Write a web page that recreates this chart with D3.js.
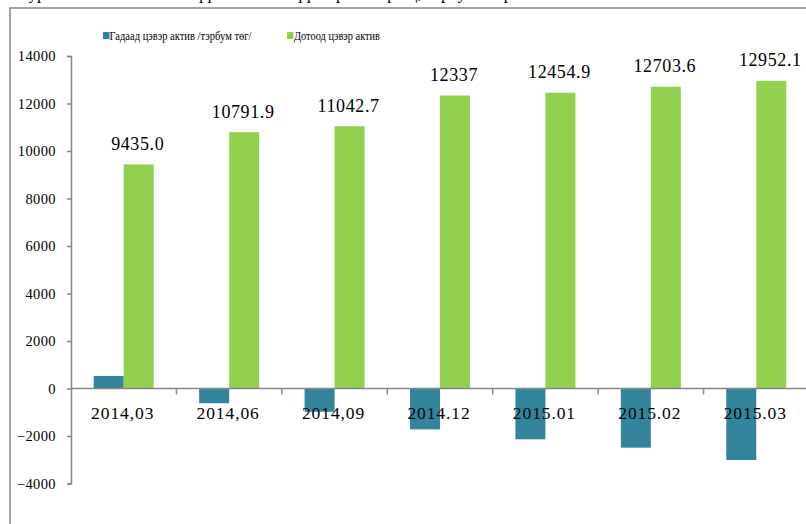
<!DOCTYPE html>
<html><head><meta charset="utf-8">
<script src="https://cdn.jsdelivr.net/npm/d3@7"></script>
<style>
html,body{margin:0;padding:0;background:#fff;}
svg text{font-family:"Liberation Serif","Times New Roman",Times,serif !important;}
</style></head>
<body>
<svg id="c" width="806" height="524"></svg>
<script>
const categories = ["2014,03","2014,06","2014,09","2014.12","2015.01","2015.02","2015.03"];
const foreignNet = [530, -620, -980, -1720, -2140, -2490, -3010];
const domesticNet = [9435.0, 10791.9, 11042.7, 12337, 12454.9, 12703.6, 12952.1];
const domesticLabels = ["9435.0","10791.9","11042.7","12337","12454.9","12703.6","12952.1"];
const seriesNames = ["Гадаад цэвэр актив /тэрбум төг/", "Дотоод цэвэр актив"];
const yTicks = [-4000,-2000,0,2000,4000,6000,8000,10000,12000,14000];
const caption = "Зураг 1. Мөнгөний нийлүүлэлтийн эх үүсвэрийн бүтэц, тэрбум төгрөг";

const svg = d3.select("#c");
const colors = ["#31849b", "#92d050"];
const axisColor = "#868686";

// caption cut by the top of the picture
svg.append("text").attr("x", 20).attr("y", -1.5).attr("font-size", 17)
  .attr("fill", "#000").text(caption);

// outer frame
svg.append("rect").attr("x", 10).attr("y", 8).attr("width", 820).attr("height", 540)
  .attr("fill", "none").attr("stroke", axisColor).attr("stroke-width", 1.5);

const y = d3.scaleLinear().domain([-4000, 14000]).range([483.5, 56]);
const x = d3.scaleBand().domain(categories).range([71, 809]).paddingInner(0).paddingOuter(0);
const barW = 30;

// bars
const g = svg.append("g");
g.selectAll("rect.f").data(foreignNet).join("rect")
  .attr("x", (d,i) => x(categories[i]) + x.bandwidth()/2 - barW)
  .attr("width", barW)
  .attr("y", d => y(Math.max(0, d)))
  .attr("height", d => Math.abs(y(d) - y(0)))
  .attr("fill", colors[0]);
g.selectAll("rect.d").data(domesticNet).join("rect")
  .attr("x", (d,i) => x(categories[i]) + x.bandwidth()/2)
  .attr("width", barW)
  .attr("y", d => y(Math.max(0, d)))
  .attr("height", d => Math.abs(y(d) - y(0)))
  .attr("fill", colors[1]);

// y axis
const yAxis = svg.append("g").attr("transform", "translate(71,0)")
  .call(d3.axisLeft(y).tickValues(yTicks).tickSize(4).tickPadding(11).tickFormat(d3.format("d")));
yAxis.attr("font-family", null);
yAxis.select(".domain").attr("stroke", axisColor).attr("stroke-width", 1.5);
yAxis.selectAll(".tick line").attr("stroke", axisColor).attr("stroke-width", 1.5);
yAxis.selectAll(".tick text").attr("font-size", 14.5).attr("letter-spacing", 0.4).attr("fill", "#000");

// x axis at zero
const xAxisG = svg.append("g").attr("transform", `translate(0,${y(0)})`);
xAxisG.append("line").attr("x1", 71).attr("x2", 809).attr("y1", 0).attr("y2", 0)
  .attr("stroke", axisColor).attr("stroke-width", 1.5);
xAxisG.selectAll("line.t").data(categories.slice(1)).join("line")
  .attr("x1", d => x(d)).attr("x2", d => x(d)).attr("y1", 0).attr("y2", 6)
  .attr("stroke", axisColor).attr("stroke-width", 1.5);
xAxisG.selectAll("text").data(categories).join("text")
  .attr("x", d => x(d) + x.bandwidth()/2 - 1)
  .attr("y", 30)
  .attr("text-anchor", "middle").attr("font-size", 17.5).attr("letter-spacing", 0.9)
  .attr("fill", "#000").text(d => d);

// value labels
svg.selectAll("text.v").data(domesticNet).join("text")
  .attr("x", (d,i) => x(categories[i]) + x.bandwidth()/2 + barW/2 - 1)
  .attr("y", d => y(d) - 14.5)
  .attr("text-anchor", "middle").attr("font-size", 18).attr("letter-spacing", 0.6)
  .attr("fill", "#000").text((d,i) => domesticLabels[i]);

// legend
const legendPos = [{sx:103, tx:109.5, w:142}, {sx:287, tx:294, w:86}];
seriesNames.forEach((name, i) => {
  svg.append("rect").attr("x", legendPos[i].sx).attr("y", 32).attr("width", 6.5).attr("height", 7)
    .attr("fill", colors[i]);
  svg.append("text").attr("x", legendPos[i].tx).attr("y", 40).attr("font-size", 13)
    .attr("textLength", legendPos[i].w).attr("lengthAdjust", "spacingAndGlyphs")
    .attr("fill", "#000").text(name);
});
</script>
</body></html>
